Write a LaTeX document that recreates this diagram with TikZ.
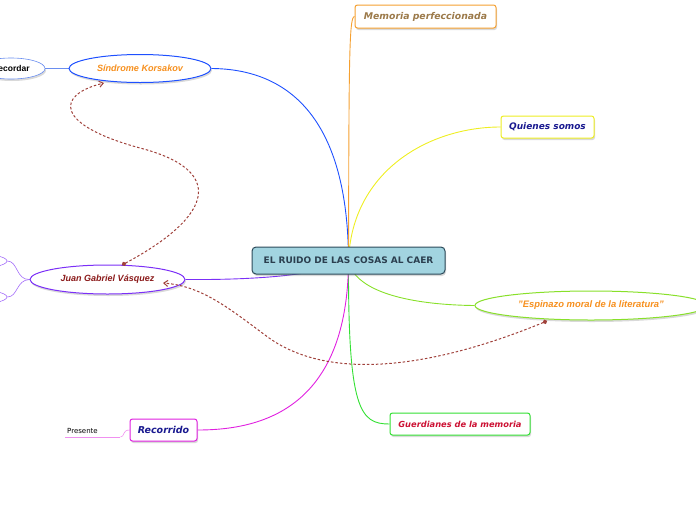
\documentclass[tikz,border=0pt]{standalone}
\usepackage{fontspec}
\setmainfont{Liberation Sans}
\newfontfamily\verdana{DejaVu Sans}
\usetikzlibrary{shapes.geometric,shadows,arrows.meta,backgrounds}

\definecolor{centerfill}{HTML}{A2D4E0}
\definecolor{centerline}{HTML}{2C4A5A}
\definecolor{centertext}{HTML}{2B3F4F}
\definecolor{korsline}{HTML}{1E50FF}
\definecolor{orangetext}{HTML}{F7901E}
\definecolor{juanline}{HTML}{7B2FF7}
\definecolor{juantext}{HTML}{8B1A1A}
\definecolor{memline}{HTML}{F5A030}
\definecolor{memtext}{HTML}{9C7A4A}
\definecolor{quienline}{HTML}{EEEE22}
\definecolor{navytext}{HTML}{1A1A90}
\definecolor{espline}{HTML}{88E02A}
\definecolor{guardline}{HTML}{33E033}
\definecolor{guardtext}{HTML}{CC1133}
\definecolor{recline}{HTML}{E020E0}
\definecolor{presline}{HTML}{F090F0}
\definecolor{recordline}{HTML}{6A8EF0}
\definecolor{relred}{HTML}{A0413B}

\tikzset{
  topic/.style={rectangle, rounded corners=2.5pt, draw, fill=white, line width=1pt, inner sep=0pt,
    drop shadow={opacity=0.3, shadow xshift=1pt, shadow yshift=-2pt}},
  bubble/.style={ellipse, draw, fill=white, line width=1pt, inner sep=0pt,
    drop shadow={opacity=0.3, shadow xshift=1pt, shadow yshift=-2pt}},
  branch/.style={line width=0.9pt},
  relation/.style={draw=relred, line width=1pt, dash pattern=on 2.5pt off 2pt,
    {Circle[length=4.5pt]}-{Straight Barb[length=4pt,width=6pt]}},
}

\begin{document}
\begin{tikzpicture}[x=1pt, y=-1pt]
    \useasboundingbox (0,0) rectangle (696,520);

    % Draw the central topic
    \node[topic, rounded corners=4pt, draw=centerline, fill=centerfill, minimum width=193, minimum height=27,
      text=centertext, font=\verdana\bfseries\fontsize{9}{10}\selectfont] (central) at (348.5,260.5) {EL RUIDO DE LAS COSAS AL CAER};

    % Draw nodes for the upper branches
    \node[bubble, draw=korsline, minimum width=142, minimum height=28, text=orangetext,
      font=\bfseries\itshape\fontsize{9.1}{10}\selectfont] (korsakov) at (140,68.5) {Síndrome Korsakov};
    \node[bubble, draw=recordline, line width=0.6pt, minimum width=68, minimum height=21,
      font=\bfseries\fontsize{8.5}{10}\selectfont] (recordar) at (11,68.5) {Recordar};
    \node[topic, draw=memline, minimum width=141, minimum height=23, text=memtext,
      font=\verdana\bfseries\itshape\fontsize{9.3}{10}\selectfont] (memoria) at (425.5,16.5) {Memoria perfeccionada};
    \node[topic, draw=quienline, minimum width=93, minimum height=22, text=navytext,
      font=\verdana\bfseries\itshape\fontsize{9}{10}\selectfont] (quienes) at (547.5,127) {Quienes somos};

    % Draw nodes for the lower branches
    \node[bubble, draw=espline, minimum width=232, minimum height=29, text=orangetext,
      font=\bfseries\itshape\fontsize{9.4}{10}\selectfont] (espinazo) at (591,305.5) {"Espinazo moral de la literatura"};
    \node[topic, draw=guardline, minimum width=140, minimum height=22, text=guardtext,
      font=\verdana\bfseries\itshape\fontsize{8.3}{10}\selectfont] (guardianes) at (460,424) {Guerdianes de la memoria};
    \node[topic, draw=recline, minimum width=67, minimum height=22, text=navytext,
      font=\verdana\bfseries\itshape\fontsize{9.5}{11}\selectfont] (recorrido) at (163.5,430) {Recorrido};
    \node[anchor=south west, minimum width=55, minimum height=12, text width=51pt, inner xsep=2pt, inner ysep=1pt,
      align=left, font=\verdana\fontsize{7}{8}\selectfont] (presente) at (65,437) {Presente};

    % Draw nodes for the left branch
    \node[bubble, draw=juanline, minimum width=155, minimum height=29, text=juantext,
      font=\bfseries\itshape\fontsize{9}{10}\selectfont] (juan) at (107.5,279.5) {Juan Gabriel Vásquez};
    \node[ellipse, draw=juanline!70, line width=0.6pt, minimum width=90, minimum height=17] (juanup) at (-38,261) {};
    \node[ellipse, draw=juanline!70, line width=0.6pt, minimum width=90, minimum height=17] (juandown) at (-38,297) {};

    % Draw edges behind the nodes
    \begin{pgfonlayer}{background}
      \draw[branch, korsline] (central.center) .. controls (348,120) and (290,69) .. (korsakov.east);
      \draw[branch, memline] (central.center) .. controls (349,60) and (349,16.5) .. (memoria.west);
      \draw[branch, quienline] (central.center) .. controls (352,170) and (430,127) .. (quienes.west);
      \draw[branch, espline] (central.center) .. controls (355,295) and (420,305) .. (espinazo.west);
      \draw[branch, guardline] (central.center) .. controls (348,410) and (360,424) .. (guardianes.west);
      \draw[branch, recline] (central.center) .. controls (348,410) and (260,430) .. (recorrido.east);
      \draw[branch, juanline] (central.center) .. controls (320,276) and (250,280) .. (juan.east);
      \draw[recordline, line width=0.6pt] (korsakov.west) -- (recordar.east);
      \draw[juanline!70, line width=0.6pt] (juan.west) .. controls (16,280) and (18,261) .. (juanup.east);
      \draw[juanline!70, line width=0.6pt] (juan.west) .. controls (16,280) and (18,297) .. (juandown.east);
      \draw[presline, line width=0.6pt] (recorrido.west) .. controls (122,430) and (125,437) .. (presente.south east);
      \draw[presline, line width=0.6pt] (presente.south west) -- (presente.south east);
    \end{pgfonlayer}

    % Draw the relations
    \coordinate (juantop) at (122,265);
    \coordinate (korsbottom) at (104,83);
    \coordinate (espbottom) at (547,321);
    \coordinate (juanright) at (163,283);
    \draw[relation] (juantop) .. controls (215,215) and (225,170) .. (140,148)
      .. controls (55,125) and (55,95) .. (korsbottom);
    \draw[relation] (espbottom) .. controls (440,365) and (330,385) .. (265,335)
      .. controls (225,305) and (200,286) .. (juanright);
\end{tikzpicture}
\end{document}
